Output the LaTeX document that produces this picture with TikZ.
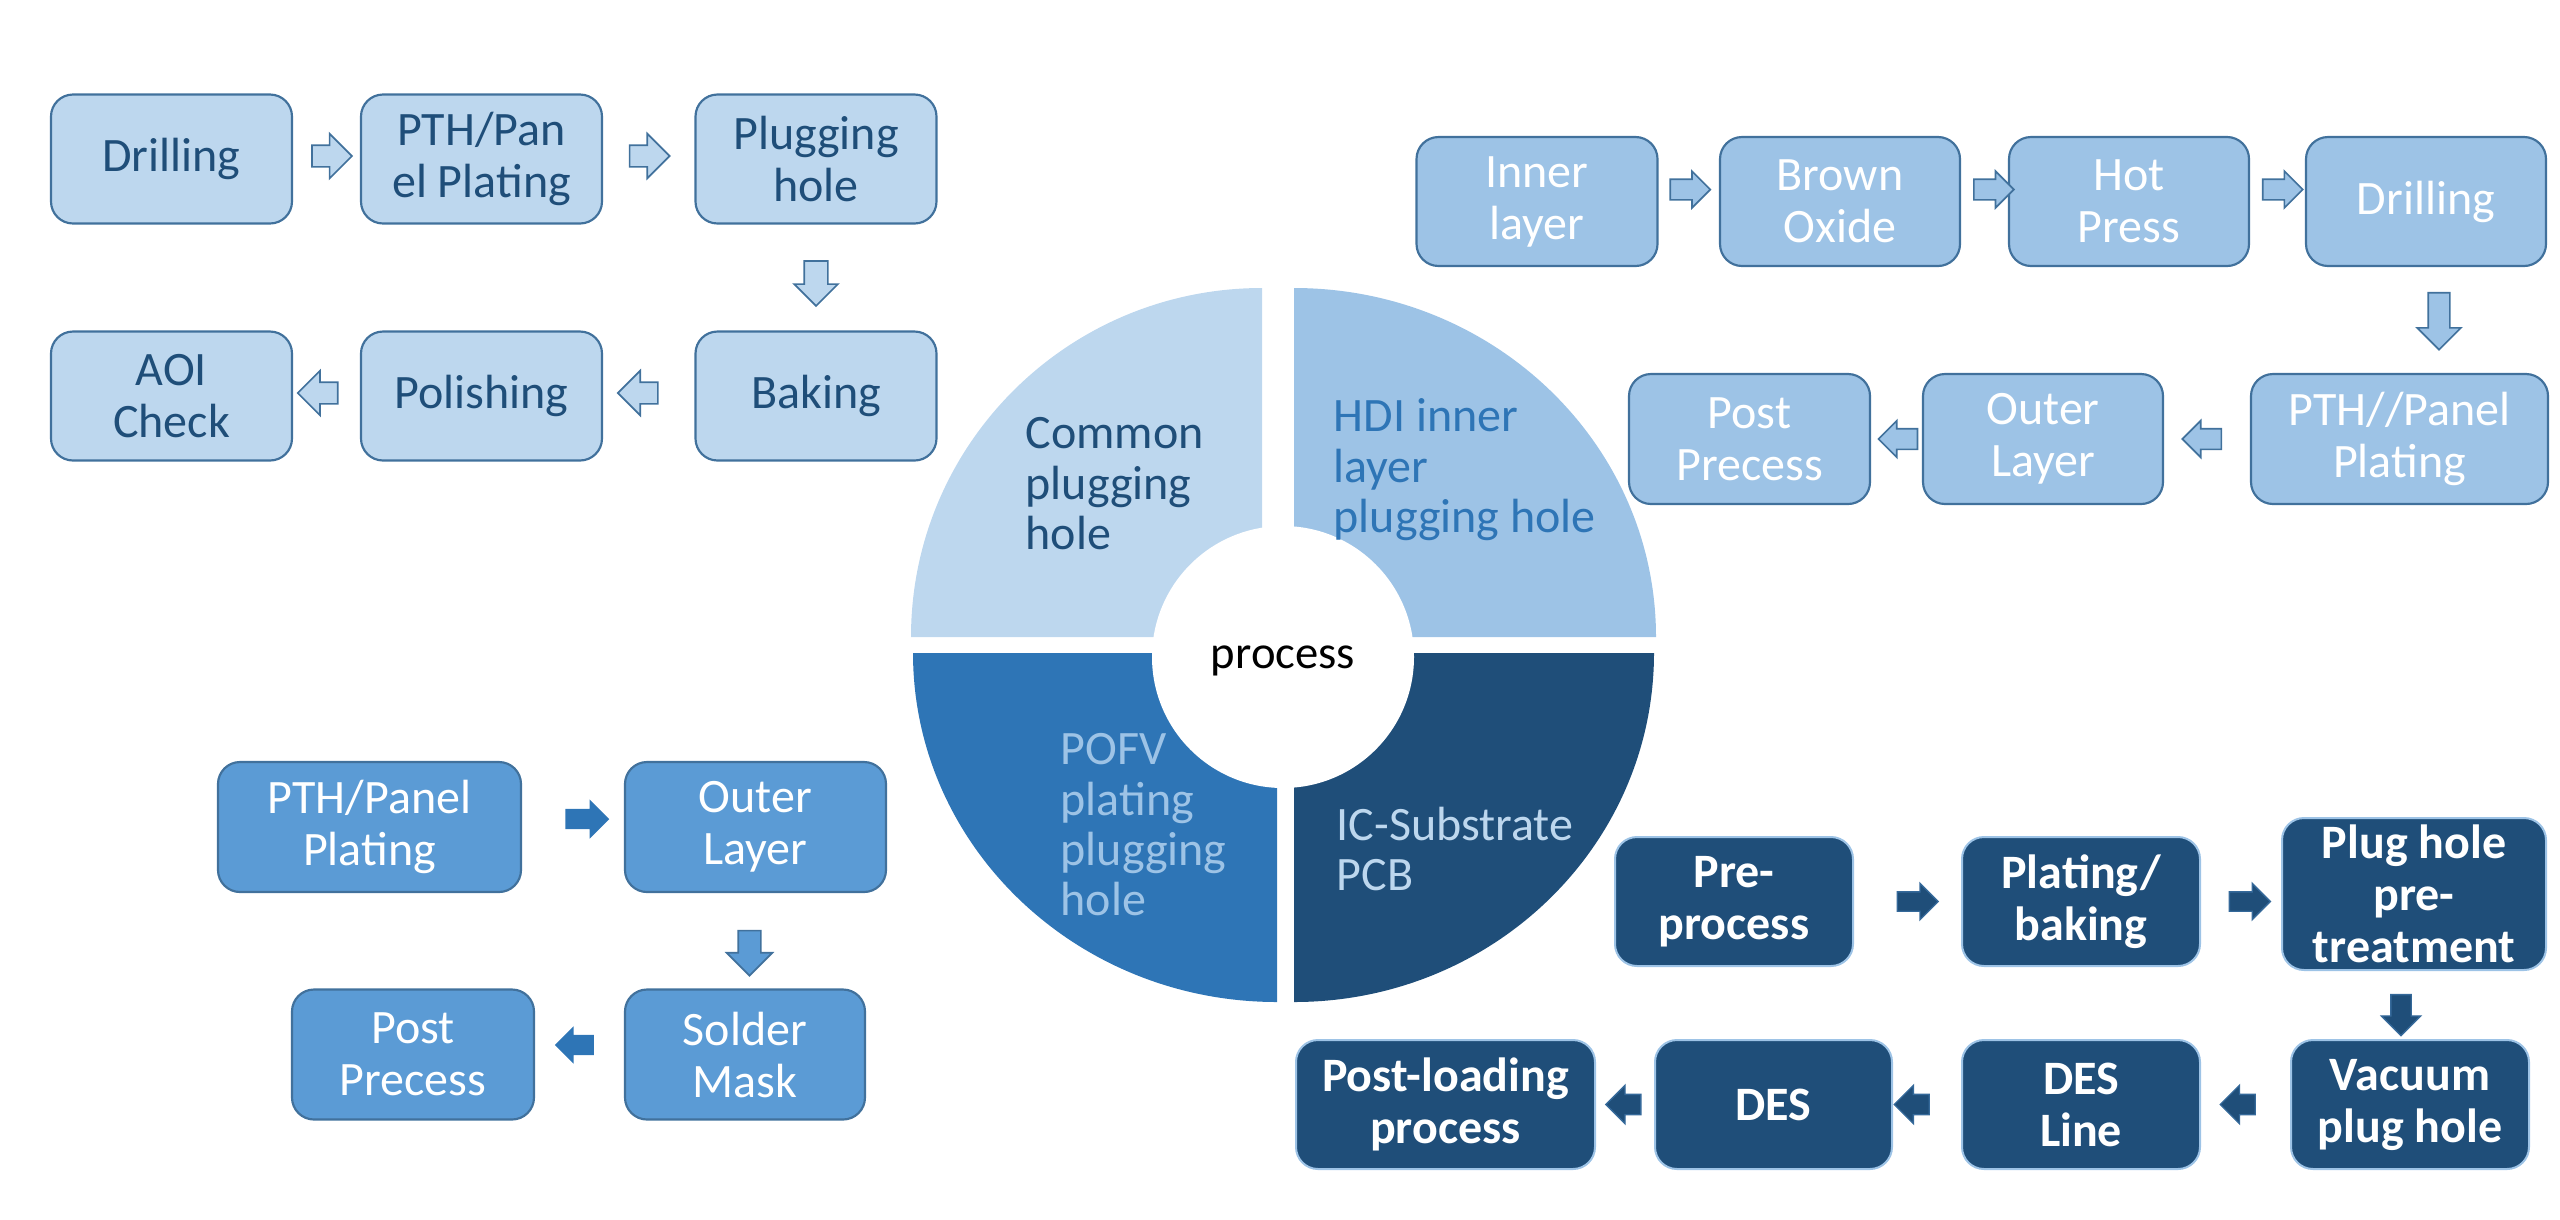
\documentclass[tikz,border=0pt]{standalone}
\usepackage{fontspec}
\setmainfont{Carlito}
\usetikzlibrary{shapes.arrows,calc}
\definecolor{cA}{HTML}{BDD7EE}
\definecolor{cB}{HTML}{9DC3E6}
\definecolor{cC}{HTML}{5B9BD5}
\definecolor{cD}{HTML}{2E75B6}
\definecolor{cE}{HTML}{1F4E79}
\definecolor{bord}{HTML}{41719C}
\definecolor{darr}{HTML}{35699A}
\begin{document}
\begin{tikzpicture}[x=0.3pt,y=-0.3pt,
  boxbase/.style={rectangle, rounded corners=6.6pt, line width=0.65pt, align=center,
    inner sep=0pt, font=\fontsize{14.4}{15.6}\selectfont, minimum height=38.7pt},
  boxA/.style={boxbase, fill=cA, draw=bord, text=cE},
  boxB/.style={boxbase, fill=cB, draw=bord, text=white},
  boxC/.style={boxbase, fill=cC, draw=bord, text=white, minimum height=39pt},
  boxD/.style={boxbase, fill=cE, draw=cB, line width=0.6pt, text=white,
    font=\fontsize{14.4}{15.6}\selectfont\bfseries},
  arr/.style={single arrow, inner xsep=0pt, outer sep=0pt, anchor=center},
  arrA/.style={arr, fill=cA, draw=bord, line width=0.5pt, minimum height=12pt,
    inner ysep=3pt, single arrow head extend=3.45pt},
  arrAd/.style={arr, fill=cA, draw=bord, line width=0.5pt, minimum height=13.5pt,
    inner ysep=3.3pt, single arrow head extend=3pt, rotate=-90},
  arrB/.style={arr, fill=cB, draw=bord, line width=0.5pt, minimum height=12pt,
    inner ysep=2.85pt, single arrow head extend=2.4pt},
  arrBd/.style={arr, fill=cB, draw=bord, line width=0.5pt, minimum height=17.1pt,
    inner ysep=3pt, single arrow head extend=3.3pt, rotate=-90},
  arrD/.style={arr, fill=cE, draw=darr, line width=0.4pt, minimum height=12.3pt,
    inner ysep=2.7pt, single arrow head extend=2.55pt},
  arrDl/.style={arr, fill=cE, draw=darr, line width=0.4pt, minimum height=10.5pt,
    inner ysep=2.85pt, single arrow head extend=2.7pt, rotate=180},
  arrDd/.style={arr, fill=cE, draw=darr, line width=0.4pt, minimum height=12.3pt,
    inner ysep=2.85pt, single arrow head extend=2.85pt, rotate=-90},
  arrC/.style={arr, fill=cD, minimum height=13.2pt,
    inner ysep=2.85pt, single arrow head extend=2.85pt},
  arrCl/.style={arr, fill=cD, minimum height=11.7pt,
    inner ysep=2.85pt, single arrow head extend=2.55pt, rotate=180},
  arrCd/.style={arr, fill=cC, draw=bord, line width=0.5pt, minimum height=13.5pt,
    inner ysep=3.15pt, single arrow head extend=3.45pt, rotate=-90},
  qtext/.style={anchor=north west, inner sep=0pt, align=left,
    font=\fontsize{14.4}{15.1}\selectfont}
]
\useasboundingbox (0,0) rectangle (2560,1219);

% ---------- central ring ----------
\fill[cA] (1262,637) -- ++(-351,0) arc[start angle=180,end angle=270,x radius=351,y radius=349] -- cycle;
\fill[cB] (1294,637) -- ++(0,-349) arc[start angle=270,end angle=360,x radius=362,y radius=349] -- cycle;
\fill[cD] (1277,653) -- ++(0,349) arc[start angle=90,end angle=180,x radius=364,y radius=349] -- cycle;
\fill[cE] (1294,653) -- ++(360,0) arc[start angle=0,end angle=90,x radius=360,y radius=349] -- cycle;
\fill[white] (1283,657) circle[radius=131];
\node[font=\fontsize{14}{16}\selectfont, text=black, inner sep=0pt] (pc) at (1283,661) {process};

\node[qtext, text=cE] (q1) at (1025,417) {Common\\plugging\\hole};
\node[qtext, text=cD] (q2) at (1333,398) {HDI inner\\layer\\plugging hole};
\node[qtext, text=cB] (q3) at (1060,733) {POFV\\plating\\plugging\\hole};
\node[qtext, text=cA] (q4) at (1336,806) {IC-Substrate\\PCB};

% ---------- top-left group ----------
\node[boxA, minimum width=72.3pt] (tl1) at (171.5,159) {Drilling};
\node[boxA, minimum width=72.3pt] (tl2) at (481.5,159) {PTH/Pan\\el Plating};
\node[boxA, minimum width=72.3pt] (tl3) at (816,159) {Plugging\\hole};
\node[boxA, minimum width=72.3pt] (tl4) at (816,396) {Baking};
\node[boxA, minimum width=72.3pt] (tl5) at (481.5,396) {Polishing};
\node[boxA, minimum width=72.3pt] (tl6) at (171.5,396) {AOI\\Check};

\node[arrA] (a1) at ($(tl1.east)!0.5!(tl2.west)+(0,-3)$) {};
\node[arrA] (a2) at ($(tl2.east)!0.45!(tl3.west)+(0,-3)$) {};
\node[arrAd] (a3) at ($(tl3.south)!0.5!(tl4.north)$) {};
\node[arrA, rotate=180] (a4) at ($(tl4.west)!0.56!(tl5.east)+(0,-3)$) {};
\node[arrA, rotate=180] (a5) at ($(tl5.west)!0.55!(tl6.east)+(0,-3)$) {};

% ---------- top-right group ----------
\node[boxB, minimum width=72.3pt] (tr1) at (1537,201.5) {Inner\\layer};
\node[boxB, minimum width=72pt] (tr2) at (1840,201.5) {Brown\\Oxide};
\node[boxB, minimum width=72pt] (tr3) at (2129,201.5) {Hot\\Press};
\node[boxB, minimum width=72pt] (tr4) at (2426,201.5) {Drilling};
\node[boxB, minimum width=89.1pt, minimum height=39pt] (tr5) at (2399.5,439) {PTH//Panel\\Plating};
\node[boxB, minimum width=72pt, minimum height=39pt] (tr6) at (2043,439) {Outer\\Layer};
\node[boxB, minimum width=72.3pt, minimum height=39pt] (tr7) at (1749.5,439) {Post\\Precess};

\node[arrB] (b1) at ($(tr1.east)!0.44!(tr2.west)+(0,-12)$) {};
\node[arrB] (b2) at ($(tr2.east)!0.59!(tr3.west)+(0,-12)$) {};
\node[arrB] (b3) at ($(tr3.east)!0.5!(tr4.west)+(0,-12)$) {};
\node[arrBd] (b4) at ($(tr4.south)!0.46!(tr4.south|-tr5.north)+(13,0)$) {};
\node[arrB, rotate=180, minimum height=11.7pt] (b5) at ($(tr5.west)!0.5!(tr6.east)$) {};
\node[arrB, rotate=180, minimum height=11.7pt] (b6) at ($(tr6.west)!0.37!(tr7.east)$) {};

% ---------- bottom-left group ----------
\node[boxC, minimum width=90.9pt] (bl1) at (369.5,827) {PTH/Panel\\Plating};
\node[boxC, minimum width=78.3pt] (bl2) at (755.5,827) {Outer\\Layer};
\node[boxC, minimum width=72pt] (bl3) at (745,1054.5) {Solder\\Mask};
\node[boxC, minimum width=72.6pt] (bl4) at (413,1054.5) {Post\\Precess};

\node[arrC] (e1) at ($(bl1.east)!0.59!(bl2.west)+(0,-8)$) {};
\node[arrCd] (e2) at ($(bl2.south)!0.57!(bl3.north)$) {};
\node[arrCl] (e3) at ($(bl3.west)!0.5!(bl4.east)+(0,-9.5)$) {};

% ---------- bottom-right group ----------
\node[boxD, minimum width=71.4pt] (dr1) at (1734,901.5) {Pre-\\process};
\node[boxD, minimum width=71.4pt] (dr2) at (2081,901.5) {Plating/\\baking};
\node[boxD, minimum width=79.2pt, minimum height=45.6pt] (dr3) at (2414,894) {Plug hole\\pre-\\treatment};
\node[boxD, minimum width=71.4pt] (dr4) at (2410,1104.5) {Vacuum\\plug hole};
\node[boxD, minimum width=71.4pt] (dr5) at (2081,1104.5) {DES\\Line};
\node[boxD, minimum width=71.1pt] (dr6) at (1773.5,1104.5) {DES};
\node[boxD, minimum width=89.7pt] (dr7) at (1445.5,1104.5) {Post-loading\\process};

\node[arrD] (d1) at ($(dr1.east)!0.55!(dr2.west)$) {};
\node[arrD] (d2) at ($(dr2.east)!0.55!(dr2.east-|dr3.west)$) {};
\node[arrDd] (d3) at ($(dr3.south)!0.5!(dr4.north)+(-11,5)$) {};
\node[arrDl] (d4) at ($(dr4.west)!0.53!(dr5.east)$) {};
\node[arrDl] (d5) at ($(dr5.west)!0.65!(dr6.east)$) {};
\node[arrDl] (d6) at ($(dr6.west)!0.44!(dr7.east)$) {};
\end{tikzpicture}
\end{document}
